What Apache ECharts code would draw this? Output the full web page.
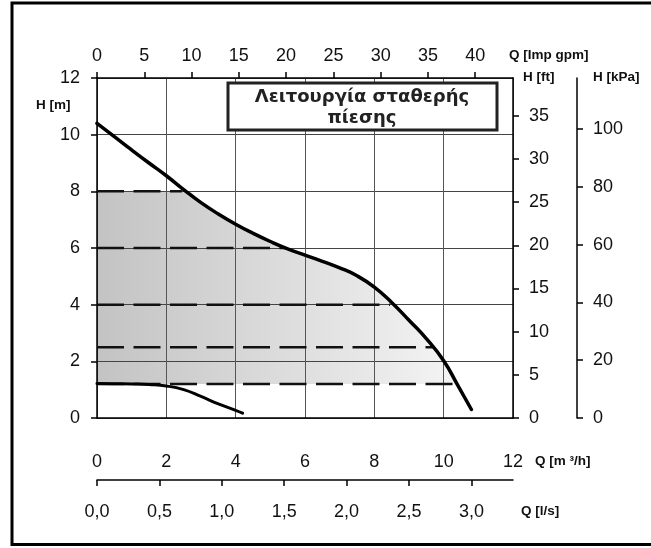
<!DOCTYPE html>
<html>
<head>
<meta charset="utf-8">
<script src="https://cdn.jsdelivr.net/npm/echarts@6/dist/echarts.min.js"></script>
<style>
  html, body { margin: 0; padding: 0; background: #fff; }
  #chart { width: 651px; height: 548px; }
</style>
</head>
<body>
<div id="chart"></div>
<script>
// Curva de la bomba (Q en m3/h, H en m)
const mainQ = [0, 0.5, 1, 1.5, 2, 2.5, 3, 3.5, 4, 4.5, 5, 5.5, 6, 6.5, 7, 7.5, 8, 8.5, 9, 9.5, 10, 10.4, 10.8];
const mainH = [10.4, 9.93, 9.46, 9.0, 8.55, 8.06, 7.6, 7.2, 6.84, 6.52, 6.23, 5.97, 5.75, 5.53, 5.3, 5.02, 4.62, 4.08, 3.45, 2.8, 2.02, 1.17, 0.3];

// Curva inferior
const lowQ = [0, 0.5, 1, 1.5, 2, 2.5, 3, 3.5, 4, 4.2];
const lowH = [1.22, 1.21, 1.2, 1.18, 1.13, 1.0, 0.76, 0.5, 0.27, 0.17];

// Zona sombreada (presión constante)
const fillTopH = 8;
const fillCornerQ = 2.56;
const fillBottomH = 1.2;
const fillEndQ = 10.38;

// Líneas discontinuas
const dashH = [8, 6, 4, 2.5, 1.2];
const dashEndQ = [2.45, 5.45, 8.45, 9.72, 10.35];

// Marcas de los ejes
const m3hTicks = [0, 2, 4, 6, 8, 10, 12];
const gpmTicks = [0, 5, 10, 15, 20, 25, 30, 35, 40];
const lsTicks = [0, 0.5, 1, 1.5, 2, 2.5, 3];
const mTicks = [0, 2, 4, 6, 8, 10, 12];
const ftTicks = [0, 5, 10, 15, 20, 25, 30, 35];
const kpaTicks = [0, 20, 40, 60, 80, 100];

const GPM_PER_M3H = 3.6662;
const M3H_PER_LS = 3.6;
const FT_PER_M = 3.28084;
const KPA_PER_M = 9.80665;

const Q_MAX = 12;
const H_MAX = 12;

const labelFont = { fontFamily: "Liberation Sans", fontSize: 18, color: "#111" };
const nameFont = "bold 13.5px 'Liberation Sans'";
const titleFont = "bold 18px 'DejaVu Sans'";

const chart = echarts.init(document.getElementById("chart"), null, { renderer: "canvas" });

const mainData = mainQ.map((q, i) => [q, mainH[i]]);
const lowData = lowQ.map((q, i) => [q, lowH[i]]);

// borde superior de la zona: tope de 8 m y luego la curva
const fillData = [[0, fillTopH], [fillCornerQ, fillTopH]];
mainQ.forEach((q, i) => {
  if (q > fillCornerQ && mainH[i] >= fillBottomH) fillData.push([q, mainH[i]]);
});
fillData.push([fillEndQ, fillBottomH]);

const dashSeries = dashH.map((h, i) => ({
  type: "line",
  data: [[0, h], [dashEndQ[i], h]],
  symbol: "none",
  silent: true,
  z: 5,
  lineStyle: { color: "#111", width: 2.5, type: [27, 9.5] },
}));

const axisLineStyle = { onZero: false, lineStyle: { color: "#000", width: 1.5 } };
const tickStyle = { color: "#000", width: 1.5 };

const option = {
  backgroundColor: "#fff",
  animation: false,
  grid: { left: 97, top: 78, width: 416, height: 340, outerBoundsMode: "none" },
  xAxis: [
    {
      type: "value", position: "bottom", min: 0, max: Q_MAX, interval: 2, z: 3,
      axisLine: axisLineStyle,
      axisTick: { show: false },
      axisLabel: Object.assign({ margin: 35, customValues: m3hTicks }, labelFont),
      splitLine: { show: true, lineStyle: { color: "#555", width: 1 } },
    },
    {
      type: "value", position: "top", min: 0, max: Q_MAX * GPM_PER_M3H, z: 3,
      axisLine: axisLineStyle,
      axisTick: { show: true, length: 6, customValues: gpmTicks, lineStyle: tickStyle },
      axisLabel: Object.assign({ margin: 13, customValues: gpmTicks }, labelFont),
      splitLine: { show: false },
    },
    {
      type: "value", position: "bottom", offset: 62, min: 0, max: Q_MAX / M3H_PER_LS, z: 3,
      axisLine: axisLineStyle,
      axisTick: { show: true, length: 6, customValues: lsTicks, lineStyle: tickStyle },
      axisLabel: Object.assign({
        margin: 23, customValues: lsTicks,
        formatter: (v) => v.toFixed(1).replace(".", ","),
      }, labelFont),
      splitLine: { show: false },
    },
  ],
  yAxis: [
    {
      type: "value", position: "left", min: 0, max: H_MAX, interval: 2, z: 3,
      axisLine: axisLineStyle,
      axisTick: { show: true, length: 6, lineStyle: tickStyle },
      axisLabel: Object.assign({ margin: 17, customValues: mTicks }, labelFont),
      splitLine: { show: true, lineStyle: { color: "#444", width: 1 } },
    },
    {
      type: "value", position: "right", min: 0, max: H_MAX * FT_PER_M, z: 3,
      axisLine: axisLineStyle,
      axisTick: { show: true, length: 6, customValues: ftTicks, lineStyle: tickStyle },
      axisLabel: Object.assign({ margin: 16, customValues: ftTicks }, labelFont),
      splitLine: { show: false },
    },
    {
      type: "value", position: "right", offset: 64, min: 0, max: H_MAX * KPA_PER_M, z: 3,
      axisLine: axisLineStyle,
      axisTick: { show: true, length: 6, customValues: kpaTicks, lineStyle: tickStyle },
      axisLabel: Object.assign({ margin: 16, customValues: kpaTicks }, labelFont),
      splitLine: { show: false },
    },
  ],
  series: [
    {
      type: "line",
      data: fillData,
      symbol: "none",
      smooth: 0.5,
      silent: true,
      z: 1,
      lineStyle: { width: 0 },
      areaStyle: {
        origin: fillBottomH,
        opacity: 1,
        color: new echarts.graphic.LinearGradient(0, 0, 1, 0, [
          { offset: 0, color: "#c3c3c3" },
          { offset: 1, color: "#f4f4f4" },
        ]),
      },
    },
    ...dashSeries,
    {
      type: "line", data: mainData, symbol: "none", smooth: 0.5, z: 6,
      lineStyle: { color: "#000", width: 3.5, cap: "round" },
    },
    {
      type: "line", data: lowData, symbol: "none", smooth: 0.5, z: 6,
      lineStyle: { color: "#000", width: 3, cap: "round" },
    },
  ],
  graphic: [
    // marco exterior
    {
      type: "rect", z: 20, silent: true,
      shape: { x: 12, y: 3, width: 700, height: 541.5 },
      style: { fill: "none", stroke: "#000", lineWidth: 3 },
    },
    // cuadro del título
    {
      type: "rect", z: 20,
      shape: { x: 228, y: 83, width: 269, height: 47 },
      style: { fill: "#fff", stroke: "#222", lineWidth: 3 },
    },
    {
      type: "text", z: 21, x: 362, y: 97,
      style: { text: "Λειτουργία σταθερής", font: titleFont, fill: "#222", align: "center", verticalAlign: "middle" },
    },
    {
      type: "text", z: 21, x: 362, y: 118,
      style: { text: "πίεσης", font: titleFont, fill: "#222", align: "center", verticalAlign: "middle" },
    },
    // nombres de ejes
    { type: "text", z: 21, x: 36, y: 105, style: { text: "H [m]", font: nameFont, fill: "#111", verticalAlign: "middle" } },
    { type: "text", z: 21, x: 509, y: 55, style: { text: "Q [Imp gpm]", font: nameFont, fill: "#111", verticalAlign: "middle" } },
    { type: "text", z: 21, x: 523, y: 77, style: { text: "H [ft]", font: nameFont, fill: "#111", verticalAlign: "middle" } },
    { type: "text", z: 21, x: 593, y: 77, style: { text: "H [kPa]", font: nameFont, fill: "#111", verticalAlign: "middle" } },
    { type: "text", z: 21, x: 535, y: 461, style: { text: "Q [m ³/h]", font: nameFont, fill: "#111", verticalAlign: "middle" } },
    { type: "text", z: 21, x: 521, y: 511, style: { text: "Q [l/s]", font: nameFont, fill: "#111", verticalAlign: "middle" } },
  ],
};

chart.setOption(option);
</script>
</body>
</html>
